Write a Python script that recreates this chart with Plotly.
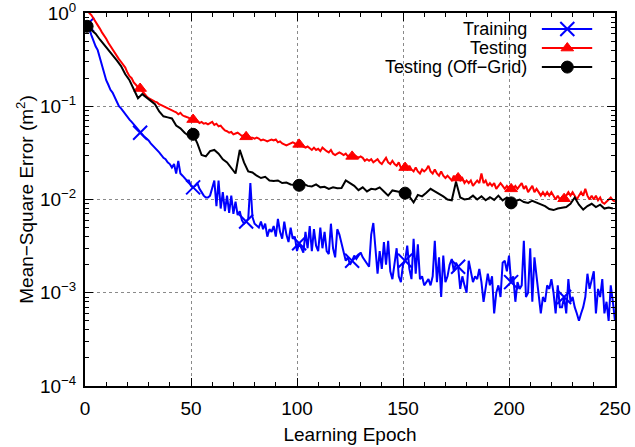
import plotly.graph_objects as go

# ---- data -------------------------------------------------------------
epochs = list(range(1, 251))

training_mse = [
    0.75, 0.68, 0.58, 0.50, 0.44, 0.40, 0.33, 0.28, 0.22, 0.19,
    0.17, 0.15, 0.14, 0.125, 0.11, 0.10, 0.095, 0.088, 0.082, 0.078,
    0.072, 0.068, 0.064, 0.060, 0.056, 0.052, 0.049, 0.047, 0.045, 0.043,
    0.040, 0.038, 0.036, 0.034, 0.032, 0.030, 0.028, 0.027, 0.025, 0.024,
    0.022, 0.024, 0.019, 0.026, 0.019, 0.018, 0.017, 0.016, 0.016, 0.014,
    0.0135, 0.014, 0.015, 0.013, 0.012, 0.011, 0.0105, 0.0105, 0.011, 0.013,
    0.016, 0.0085, 0.016, 0.008, 0.012, 0.0075, 0.011, 0.0072, 0.011, 0.0070,
    0.0095, 0.0068, 0.0075, 0.0060, 0.0055, 0.0058, 0.0062, 0.015, 0.0065, 0.0055,
    0.0052, 0.0050, 0.0058, 0.0048, 0.0055, 0.0040, 0.0048, 0.0045, 0.0052, 0.0040,
    0.0062, 0.0045, 0.0038, 0.0058, 0.0042, 0.0035, 0.0050, 0.0038, 0.0040, 0.0028,
    0.0034, 0.0030, 0.0027, 0.0045, 0.0030, 0.0052, 0.0028, 0.0048, 0.0032, 0.0028,
    0.0050, 0.0030, 0.0045, 0.0028, 0.0026, 0.0055, 0.0030, 0.0024, 0.0048, 0.0042,
    0.0034, 0.0026, 0.0022, 0.0024, 0.0020, 0.0022, 0.0025, 0.0023, 0.0025, 0.0027,
    0.0024, 0.0022, 0.0020, 0.0019, 0.0042, 0.0056, 0.0030, 0.0016, 0.0028, 0.0018,
    0.0035, 0.0020, 0.0036, 0.0017, 0.0014, 0.0022, 0.0030, 0.0015, 0.0013, 0.0020,
    0.0022, 0.0032, 0.0018, 0.0014, 0.0038, 0.0016, 0.0033, 0.0014, 0.0015, 0.0012,
    0.0013, 0.0014, 0.0012, 0.0015, 0.0036, 0.0013, 0.0024, 0.0009, 0.0025, 0.0013,
    0.0015, 0.0020, 0.0023, 0.0017, 0.0021, 0.0019, 0.0011, 0.0015, 0.0012, 0.0010,
    0.0022, 0.0016, 0.0013, 0.0015, 0.0014, 0.0018, 0.0013, 0.0008, 0.0012, 0.0016,
    0.0012, 0.0015, 0.0006, 0.0010, 0.0012, 0.0009, 0.0021, 0.0022, 0.0017, 0.0025,
    0.0013, 0.0015, 0.0008, 0.0013, 0.0011, 0.0012, 0.0036, 0.0009, 0.0010, 0.0030,
    0.0008, 0.0024, 0.0015, 0.0010, 0.0006, 0.0009, 0.0008, 0.0012, 0.0011, 0.0014,
    0.0010, 0.0006, 0.0012, 0.0007, 0.0007, 0.0009, 0.0006, 0.0014, 0.0008, 0.0009,
    0.0007, 0.0006, 0.0005, 0.0006, 0.0007, 0.0009, 0.0016, 0.0011, 0.0014, 0.0017,
    0.0006, 0.0011, 0.0009, 0.0014, 0.0006, 0.0008, 0.0005, 0.0012, 0.0008, 0.0005,
]

testing_mse = [
    1.10, 1.00, 0.95, 0.88, 0.80, 0.74, 0.68, 0.62, 0.58, 0.53,
    0.48, 0.44, 0.41, 0.37, 0.34, 0.32, 0.30, 0.28, 0.26, 0.23,
    0.21, 0.20, 0.18, 0.17, 0.16, 0.155, 0.145, 0.135, 0.128, 0.122,
    0.118, 0.114, 0.112, 0.110, 0.105, 0.103, 0.100, 0.097, 0.095, 0.092,
    0.090, 0.088, 0.086, 0.082, 0.085, 0.080, 0.078, 0.077, 0.075, 0.072,
    0.072, 0.070, 0.069, 0.066, 0.068, 0.065, 0.066, 0.064, 0.066, 0.068,
    0.063, 0.065, 0.061, 0.062, 0.058, 0.055, 0.054, 0.052, 0.053, 0.050,
    0.051, 0.052, 0.050, 0.048, 0.049, 0.047, 0.047, 0.046, 0.046, 0.045,
    0.046, 0.045, 0.043, 0.044, 0.043, 0.042, 0.043, 0.044, 0.043, 0.044,
    0.041, 0.042, 0.040, 0.039, 0.038, 0.039, 0.040, 0.041, 0.040, 0.038,
    0.039, 0.038, 0.037, 0.036, 0.037, 0.035, 0.034, 0.036, 0.034, 0.035,
    0.033, 0.036, 0.034, 0.033, 0.032, 0.034, 0.031, 0.030, 0.031, 0.032,
    0.031, 0.030, 0.031, 0.029, 0.030, 0.029, 0.030, 0.029, 0.028, 0.029,
    0.028, 0.026, 0.027, 0.026, 0.027, 0.025, 0.026, 0.027, 0.025, 0.024,
    0.026, 0.028, 0.025, 0.024, 0.026, 0.024, 0.023, 0.025, 0.022, 0.021,
    0.022, 0.021, 0.023, 0.021, 0.020, 0.022, 0.020, 0.019, 0.021, 0.020,
    0.021, 0.023, 0.020, 0.019, 0.021, 0.019, 0.018, 0.020, 0.018, 0.017,
    0.018, 0.017, 0.016, 0.018, 0.016, 0.017, 0.016, 0.017, 0.015, 0.016,
    0.015, 0.016, 0.014, 0.015, 0.016, 0.015, 0.019, 0.015, 0.016, 0.014,
    0.015, 0.014, 0.015, 0.013, 0.014, 0.015, 0.014, 0.013, 0.014, 0.013,
    0.013, 0.013, 0.014, 0.013, 0.014, 0.015, 0.013, 0.014, 0.012, 0.013,
    0.014, 0.012, 0.013, 0.012, 0.011, 0.012, 0.011, 0.012, 0.011, 0.012,
    0.011, 0.010, 0.011, 0.010, 0.0105, 0.0102, 0.011, 0.012, 0.011, 0.012,
    0.011, 0.010, 0.011, 0.012, 0.011, 0.013, 0.011, 0.010, 0.011, 0.010,
    0.011, 0.0098, 0.0105, 0.0093, 0.0090, 0.0095, 0.0100, 0.0105, 0.0098, 0.0095,
]

offgrid_epochs = list(range(1, 251, 2))
offgrid_mse = [
    0.72, 0.66, 0.60, 0.52, 0.46, 0.40, 0.36, 0.31, 0.27, 0.22,
    0.19, 0.15, 0.122, 0.135, 0.125, 0.115, 0.105, 0.088, 0.078, 0.076,
    0.074, 0.062, 0.058, 0.052, 0.048, 0.050, 0.040, 0.030, 0.029, 0.033,
    0.034, 0.031, 0.027, 0.025, 0.022, 0.019, 0.034, 0.025, 0.020, 0.0195,
    0.018, 0.017, 0.0175, 0.016, 0.0158, 0.016, 0.015, 0.0152, 0.0145, 0.0143,
    0.0142, 0.0148, 0.014, 0.0138, 0.0145, 0.0135, 0.0137, 0.013, 0.0135, 0.0132,
    0.0133, 0.016, 0.0148, 0.014, 0.0126, 0.0135, 0.0122, 0.013, 0.0128, 0.0135,
    0.0122, 0.011, 0.0125, 0.0122, 0.0118, 0.0117, 0.0108, 0.0093, 0.0112, 0.0108,
    0.0118, 0.013, 0.0122, 0.0115, 0.0108, 0.0100, 0.0098, 0.0155, 0.0105, 0.0100,
    0.0102, 0.0110, 0.0100, 0.0108, 0.0098, 0.0106, 0.0099, 0.0110, 0.0098, 0.0105,
    0.0092, 0.0096, 0.0100, 0.0094, 0.0092, 0.0097, 0.0093, 0.0088, 0.0085, 0.0079,
    0.0077, 0.0080, 0.0081, 0.0083, 0.0090, 0.0105, 0.0088, 0.0078, 0.0085, 0.0090,
    0.0083, 0.0088, 0.0080, 0.0082, 0.0080,
]

series_names = ["Training", "Testing", "Testing (Off\u2212Grid)"]
x_ticks = [0, 50, 100, 150, 200, 250]
y_ticks = [1e-4, 1e-3, 1e-2, 1e-1, 1e0]
y_ticklabels = ["10<sup>\u22124</sup>", "10<sup>\u22123</sup>", "10<sup>\u22122</sup>",
                "10<sup>\u22121</sup>", "10<sup>0</sup>"]
y_minor = [m * 10.0 ** e for e in range(-4, 0) for m in range(2, 10)]

# ---- styling ---------------------------------------------------------
FONT = "Liberation Sans, Arial, Helvetica, sans-serif"
FS = 19
KEY_FS = 18
BLUE, RED, BLACK = "#0000ff", "#ff0000", "#000000"


def sparse_sizes(n, every, size):
    """Marker sizes that show a point only every `every` samples."""
    return [size if i % every == 0 else 0 for i in range(n)]


fig = go.Figure()

fig.add_trace(go.Scatter(
    x=epochs, y=training_mse, mode="lines+markers", name=series_names[0],
    line=dict(color=BLUE, width=2),
    marker=dict(symbol="x-thin", color=BLUE, opacity=1,
                size=sparse_sizes(len(epochs), 25, 14),
                line=dict(color=BLUE, width=2)),
    showlegend=False,
))
fig.add_trace(go.Scatter(
    x=epochs, y=testing_mse, mode="lines+markers", name=series_names[1],
    line=dict(color=RED, width=2),
    marker=dict(symbol="triangle-up", color=RED, opacity=1,
                size=sparse_sizes(len(epochs), 25, 11),
                line=dict(color=RED, width=1)),
    showlegend=False,
))
fig.add_trace(go.Scatter(
    x=offgrid_epochs, y=offgrid_mse, mode="lines+markers", name=series_names[2],
    line=dict(color=BLACK, width=2),
    marker=dict(symbol="circle", color=BLACK, opacity=1,
                size=sparse_sizes(len(offgrid_epochs), 25, 12),
                line=dict(color=BLACK, width=1)),
    showlegend=False,
))

# ---- key, drawn in the upper right corner of the frame ----------------
key_rows = [0.957, 0.906, 0.855]
key_styles = [
    (BLUE, "x-thin", 14),
    (RED, "triangle-up", 11),
    (BLACK, "circle", 12),
]
for name, row, (col, sym, sz) in zip(series_names, key_rows, key_styles):
    fig.add_annotation(xref="paper", yref="paper", x=0.836, y=row, text=name,
                       showarrow=False, xanchor="right", yanchor="middle",
                       borderpad=0,
                       font=dict(family=FONT, size=KEY_FS, color="black"))
    fig.add_trace(go.Scatter(
        x=[0.862, 0.910, 0.957], y=[row, row, row], xaxis="x2", yaxis="y2",
        mode="lines+markers", line=dict(color=col, width=2),
        marker=dict(symbol=sym, color=col, opacity=1, size=[0, sz, 0],
                    line=dict(color=col, width=2 if sym == "x-thin" else 1)),
        showlegend=False, hoverinfo="skip", cliponaxis=False,
    ))

axis_common = dict(
    showline=True, linecolor="black", linewidth=2, mirror="allticks",
    ticks="inside", ticklen=8, tickwidth=1, tickcolor="black",
    showgrid=True, gridcolor="#8a8a8a", griddash="dot", gridwidth=1,
    zeroline=False, automargin=False, ticklabeloverflow="allow",
    tickfont=dict(family=FONT, size=FS, color="black"),
    title_font=dict(family=FONT, size=FS, color="black"),
)

fig.update_layout(
    width=635, height=447,
    margin=dict(l=85, r=20, t=13, b=61, autoexpand=False),
    paper_bgcolor="white", plot_bgcolor="white",
    font=dict(family=FONT, size=FS, color="black"),
    xaxis=dict(
        range=[0, 250], tickvals=x_ticks, ticklabelstandoff=4,
        title=dict(text="Learning Epoch", standoff=10),
        minor=dict(dtick=10, ticks="inside", ticklen=4, tickcolor="black", showgrid=False),
        **axis_common,
    ),
    yaxis=dict(
        type="log", range=[-4, 0], tickvals=y_ticks, ticktext=y_ticklabels,
        ticklabelstandoff=3,
        title=dict(text="Mean\u2212Square Error (m<sup>2</sup>)", standoff=1),
        minor=dict(tickvals=y_minor, ticks="inside", ticklen=4, tickcolor="black", showgrid=False),
        **axis_common,
    ),
    xaxis2=dict(range=[0, 1], overlaying="x", visible=False, fixedrange=True),
    yaxis2=dict(range=[0, 1], overlaying="y", visible=False, fixedrange=True),
)

fig.write_html("out.html")
